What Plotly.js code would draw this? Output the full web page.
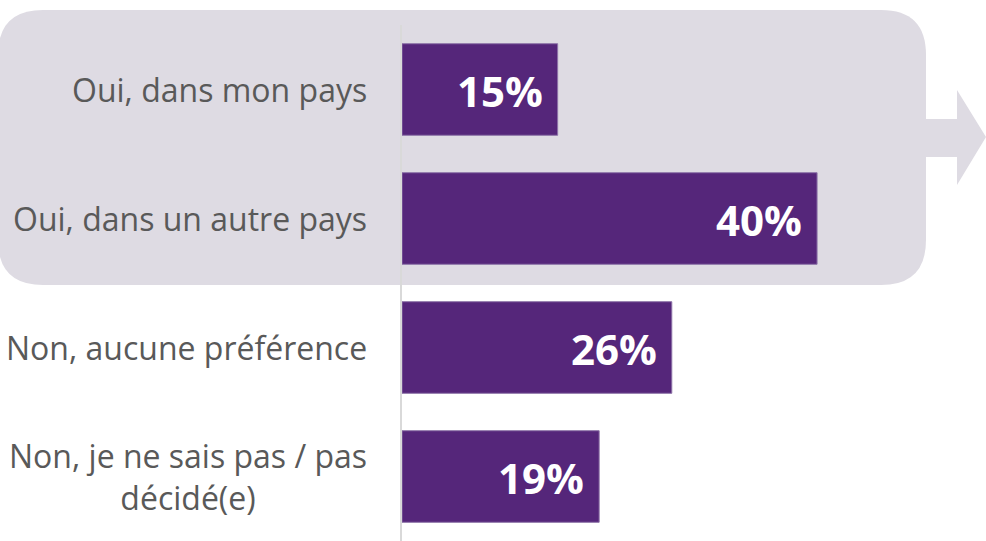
<!DOCTYPE html>
<html>
<head>
<meta charset="utf-8">
<script src="https://cdn.plot.ly/plotly-3.0.1.min.js"></script>
<style>
html,body{margin:0;padding:0;background:#ffffff;}
#chart{width:986px;height:541px;}
</style>
</head>
<body>
<div id="chart"></div>
<script>
// Data
const categories = [
  "Oui, dans mon pays",
  "Oui, dans un autre pays",
  "Non, aucune préférence",
  "Non, je ne sais pas / pas<br>décidé(e)"
];
const values = [15, 40, 26, 19];
const valueLabels = ["15%", "40%", "26%", "19%"];

const barColor = "#55267a";
const panelColor = "#dedbe3";

const trace = {
  type: "bar",
  orientation: "h",
  x: values,
  y: categories,
  marker: { color: barColor, line: { color: "#8d73a8", width: 1 } },
  width: 0.71,
  hoverinfo: "skip",
  showlegend: false
};

const annotations = [];
categories.forEach((c, i) => {
  annotations.push({
    xref: "paper", yref: "y", x: 0, y: c,
    xanchor: "right", yanchor: "middle", xshift: -33,
    text: c, showarrow: false, align: "center",
    font: { family: "Open Sans", size: 32, color: "#595959" }
  });
  annotations.push({
    xref: "x", yref: "y", x: values[i], y: c,
    xanchor: "right", yanchor: "middle", xshift: -13, yshift: -1,
    text: valueLabels[i], showarrow: false,
    font: { family: "Open Sans", size: 42, color: "#ffffff", weight: "bold" }
  });
});

const shapes = [
  {
    type: "path", layer: "below",
    xref: "paper", yref: "paper",
    xsizemode: "pixel", ysizemode: "pixel", xanchor: 0, yanchor: 1,
    path: "M -359,15 L 479,15 Q 524,15 524,-30 L 524,-215 Q 524,-260 479,-260 L -359,-260 Q -404,-260 -404,-215 L -404,-30 Q -404,15 -359,15 Z",
    fillcolor: panelColor, line: { width: 0 }
  },
  {
    type: "path", layer: "below",
    xref: "paper", yref: "paper",
    xsizemode: "pixel", ysizemode: "pixel", xanchor: 0, yanchor: 1,
    path: "M 520,-94 L 555,-94 L 555,-65 L 584,-112 L 555,-160 L 555,-132 L 520,-132 Z",
    fillcolor: panelColor, line: { width: 0 }
  }
];

const layout = {
  width: 986, height: 541,
  margin: { l: 402, r: 0, t: 25, b: 0, pad: 0 },
  paper_bgcolor: "#ffffff",
  plot_bgcolor: "rgba(0,0,0,0)",
  xaxis: { range: [0, 56.28], visible: false, fixedrange: true },
  yaxis: {
    type: "category",
    categoryorder: "array", categoryarray: categories,
    range: [3.5, -0.5],
    showline: true, linecolor: "#d9d9d9", linewidth: 2,
    showticklabels: false, showgrid: false, zeroline: false, ticks: "",
    fixedrange: true
  },
  annotations: annotations,
  shapes: shapes,
  showlegend: false
};

Plotly.newPlot("chart", [trace], layout, { displayModeBar: false, staticPlot: true });
</script>
</body>
</html>
